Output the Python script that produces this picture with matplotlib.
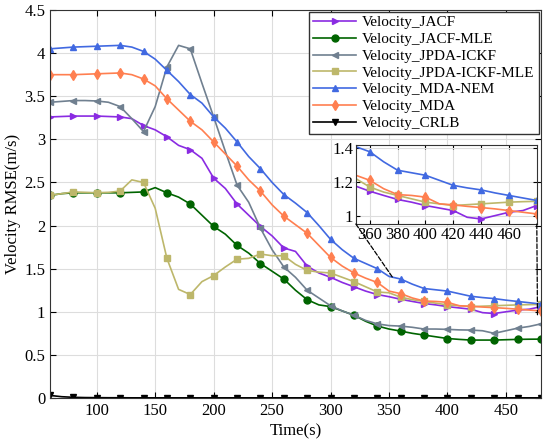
import matplotlib
matplotlib.use("Agg")
import matplotlib.pyplot as plt
from matplotlib.patches import ConnectionPatch

plt.rcParams['font.family'] = ['Liberation Serif', 'DejaVu Serif']
plt.rcParams['mathtext.fontset'] = 'stix'

# time axis (s), sampled every 10 s
time = list(range(60, 481, 10))

jacf = [3.26, 3.265, 3.27, 3.27, 3.27, 3.265, 3.26, 3.24, 3.16, 3.11, 3.03, 2.93, 2.88, 2.78, 2.55,
        2.43, 2.25, 2.12, 1.99, 1.88, 1.74, 1.70, 1.53, 1.45, 1.40, 1.34, 1.29, 1.24, 1.20, 1.175,
        1.145, 1.12, 1.096, 1.08, 1.06, 1.045, 1.03, 0.99, 0.98, 1.00, 1.02, 1.03, 1.06]
jacf_mle = [2.35, 2.37, 2.38, 2.38, 2.38, 2.38, 2.38, 2.385, 2.39, 2.44, 2.38, 2.33, 2.25, 2.12, 1.99,
            1.90, 1.77, 1.68, 1.56, 1.47, 1.38, 1.25, 1.14, 1.08, 1.06, 1.01, 0.96, 0.89, 0.835, 0.80,
            0.776, 0.75, 0.73, 0.71, 0.69, 0.68, 0.672, 0.672, 0.672, 0.676, 0.68, 0.682, 0.683]
jpda_ickf = [3.43, 3.44, 3.45, 3.45, 3.445, 3.43, 3.38, 3.24, 3.09, 3.38, 3.84, 4.09, 4.05, 3.65, 3.26,
             2.86, 2.47, 2.27, 1.97, 1.72, 1.52, 1.40, 1.25, 1.16, 1.07, 1.01, 0.96, 0.90, 0.86, 0.84,
             0.834, 0.82, 0.80, 0.80, 0.796, 0.79, 0.788, 0.78, 0.75, 0.78, 0.81, 0.83, 0.86]
jpda_ickf_mle = [2.35, 2.37, 2.39, 2.385, 2.38, 2.385, 2.40, 2.53, 2.50, 2.20, 1.62, 1.26, 1.20, 1.35, 1.42,
                 1.52, 1.61, 1.62, 1.67, 1.65, 1.65, 1.55, 1.48, 1.46, 1.45, 1.40, 1.35, 1.29, 1.23, 1.22,
                 1.17, 1.14, 1.12, 1.10, 1.08, 1.07, 1.06, 1.065, 1.07, 1.075, 1.08, 1.083, 1.085]
mda_nem = [4.05, 4.06, 4.07, 4.075, 4.08, 4.085, 4.09, 4.07, 4.02, 3.93, 3.80, 3.67, 3.52, 3.42, 3.26,
           3.13, 2.97, 2.80, 2.66, 2.50, 2.36, 2.26, 2.15, 2.00, 1.84, 1.72, 1.62, 1.56, 1.50, 1.41,
           1.38, 1.32, 1.27, 1.255, 1.24, 1.21, 1.18, 1.165, 1.153, 1.135, 1.12, 1.105, 1.09]
mda = [3.75, 3.75, 3.75, 3.755, 3.76, 3.765, 3.77, 3.75, 3.70, 3.62, 3.47, 3.34, 3.21, 3.11, 2.97,
       2.83, 2.69, 2.53, 2.40, 2.24, 2.11, 2.01, 1.91, 1.77, 1.63, 1.53, 1.45, 1.39, 1.34, 1.24,
       1.21, 1.16, 1.125, 1.12, 1.11, 1.07, 1.064, 1.055, 1.048, 1.04, 1.03, 1.02, 1.01]
crlb = [0.03, 0.015, 0.008, 0.005, 0.004, 0.003, 0.003, 0.002, 0.002, 0.002, 0.002, 0.002, 0.002, 0.002, 0.002,
        0.002, 0.002, 0.002, 0.002, 0.002, 0.002, 0.002, 0.002, 0.002, 0.002, 0.002, 0.002, 0.002, 0.002, 0.002,
        0.002, 0.002, 0.002, 0.002, 0.002, 0.002, 0.002, 0.002, 0.002, 0.002, 0.002, 0.002, 0.002]

series = [
    (jacf, "Velocity_JACF", "#8A2BE2", ">"),
    (jacf_mle, "Velocity_JACF-MLE", "#006400", "o"),
    (jpda_ickf, "Velocity_JPDA-ICKF", "#708090", "<"),
    (jpda_ickf_mle, "Velocity_JPDA-ICKF-MLE", "#BDB76B", "s"),
    (mda_nem, "Velocity_MDA-NEM", "#4169E1", "^"),
    (mda, "Velocity_MDA", "#FF7F50", "d"),
    (crlb, "Velocity_CRLB", "black", "v"),
]

fig = plt.figure(figsize=(5.5, 4.45), dpi=100)
ax = fig.add_axes([0.0909, 0.1056, 0.8927, 0.8719])

for vals, lab, col, mk in series:
    ms = 4 if mk == "s" else 5
    ax.plot(time, vals, color=col, label=lab, marker=mk, markersize=ms, markevery=2, linewidth=1.2)

ax.set_xlim(60, 480)
ax.set_ylim(0, 4.5)
ax.set_xticks([100, 150, 200, 250, 300, 350, 400, 450])
ax.set_yticks([0, 0.5, 1, 1.5, 2, 2.5, 3, 3.5, 4, 4.5])
ax.set_yticklabels(["0", "0.5", "1", "1.5", "2", "2.5", "3", "3.5", "4", "4.5"])
ax.grid(True, color="#dddddd", linewidth=0.8)
ax.tick_params(direction="in", top=True, right=True, labelsize=12, length=4)
for s in ax.spines.values():
    s.set_color("#333333")
ax.set_xlabel("Time(s)", fontsize=12, labelpad=3)
ax.set_ylabel("Velocity RMSE(m/s)", fontsize=12, labelpad=2)

leg = ax.legend(loc="upper right", bbox_to_anchor=(0.995, 0.995), fontsize=11, fancybox=False,
                edgecolor="#333333", framealpha=1, borderpad=0.25, labelspacing=0.2,
                handlelength=2.8, handletextpad=0.4, borderaxespad=0.0)
leg.get_frame().set_linewidth(1.0)

# zoomed inset
axin = fig.add_axes([0.647, 0.4966, 0.329, 0.1775])
for vals, lab, col, mk in series:
    ms = 4 if mk == "s" else 5
    axin.plot(time, vals, color=col, marker=mk, markersize=ms, markevery=2, linewidth=1.2)
axin.set_xlim(350, 480)
axin.set_ylim(0.95, 1.42)
axin.set_xticks([360, 380, 400, 420, 440, 460])
axin.set_yticks([1, 1.2, 1.4])
axin.set_yticklabels(["1", "1.2", "1.4"])
axin.grid(True, color="#dddddd", linewidth=0.8)
axin.tick_params(direction="in", top=True, right=True, labelsize=12, length=3, pad=2)
for s in axin.spines.values():
    s.set_color("#333333")

for xa, xb in [((0, 0), (353, 1.40)), ((1, 0), (477, 0.96))]:
    con = ConnectionPatch(xyA=xa, coordsA=axin.transAxes, xyB=xb, coordsB=ax.transData,
                          linestyle="--", color="black", linewidth=0.9)
    fig.add_artist(con)

fig.savefig("out.png", dpi=100)
